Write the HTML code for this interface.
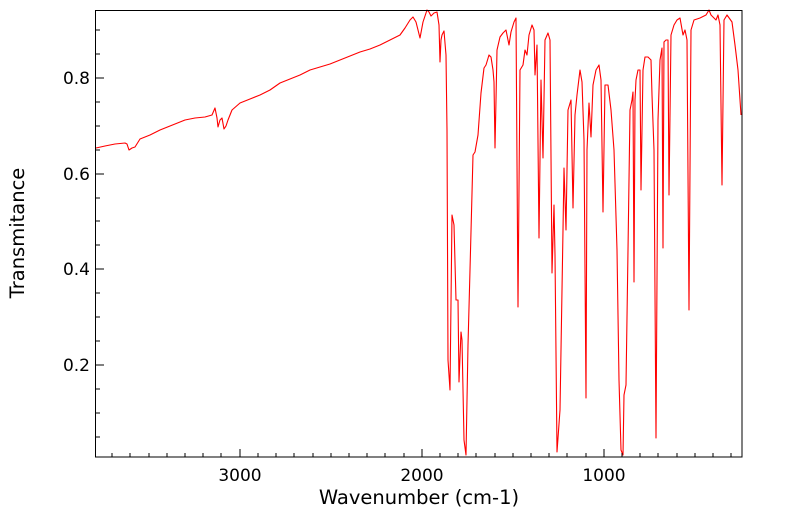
<!DOCTYPE html>
<html><head><style>
html,body{margin:0;padding:0;background:#fff;}
svg text{font-family:"DejaVu Sans","Liberation Sans",sans-serif;fill:#000;}
</style></head><body>
<svg width="799" height="516" viewBox="0 0 799 516" xmlns="http://www.w3.org/2000/svg">
<rect x="0" y="0" width="799" height="516" fill="#fff"/>
<polyline fill="none" stroke="#ff0000" stroke-width="1.1" stroke-linejoin="round" points="
96,148 105,146 115,144 125,143 127,144 129,150 132,148 135,147 140,139 150,135 160,130 175,124 185,120 195,118 205,117 212,115 215,108 217,118 218,127 220,120 222,118 224,129 226,126 228,120 232,110 240,103 250,99 260,95 270,90 280,83 290,79 300,75 310,70 320,67 330,64 340,60 350,56 360,52 370,49 380,45 390,40 400,35 405,28 410,20 413,17 416,22 418,30 420,38 423,22 427,10 429,12 431,16 434,13 437,12 439,25 440,62 441,40 442,35 444,31 446,55 447,130 448,360 450,390 452,215 454,225 456,300 458,300 459,382 461,332 462,340 464,440 466,455 468,345 470,270 473,155 475,152 478,135 481,93 484,68 486,65 489,55 491,57 493,70 494,82 495,148 496,100 497,50 500,37 503,33 506,30 509,45 511,32 514,22 516,18 518,307 520,70 523,65 525,50 527,55 529,35 532,25 534,30 535,75 537,45 539,238 541,80 543,158 545,40 548,33 550,40 552,273 554,205 555,255 557,452 560,410 563,230 564,168 566,230 568,110 571,100 573,208 575,115 577,95 580,70 582,82 584,140 586,398 587,150 589,103 591,137 593,85 596,70 599,65 601,80 603,212 605,85 608,85 611,110 614,150 617,250 619,380 621,450 623,455 624,395 626,385 628,250 630,110 632,100 633,92 634,282 635,100 636,80 638,70 640,70 641,190 643,70 645,57 648,57 651,60 652,95 654,150 656,438 658,120 660,60 662,48 663,248 664,42 666,40 668,40 669,195 671,35 674,25 677,20 680,18 683,35 685,30 687,40 689,310 691,30 694,20 700,18 706,15 709,10 711,15 713,17 716,20 718,15 720,25 722,185 724,20 727,15 732,22 735,45 738,70 741,115"/>
<rect x="95.5" y="10.5" width="646.5" height="446.5" fill="none" stroke="#000" stroke-width="1"/>
<g stroke="#000" stroke-width="1">
<line x1="240" y1="457" x2="240" y2="449"/>
<line x1="422" y1="457" x2="422" y2="449"/>
<line x1="604" y1="457" x2="604" y2="449"/>
<path d="M112,457v-4M130,457v-4M149,457v-4M167,457v-4M185,457v-4M203,457v-4M221,457v-4M258,457v-4M276,457v-4M294,457v-4M313,457v-4M331,457v-4M349,457v-4M367,457v-4M385,457v-4M404,457v-4M440,457v-4M458,457v-4M476,457v-4M495,457v-4M513,457v-4M531,457v-4M549,457v-4M567,457v-4M586,457v-4M622,457v-4M640,457v-4M658,457v-4M677,457v-4M695,457v-4M713,457v-4M731,457v-4"/>
<line x1="96" y1="78" x2="104" y2="78"/>
<line x1="96" y1="174" x2="104" y2="174"/>
<line x1="96" y1="269" x2="104" y2="269"/>
<line x1="96" y1="365" x2="104" y2="365"/>
<path d="M96,30h4M96,54h4M96,102h4M96,126h4M96,150h4M96,198h4M96,221h4M96,245h4M96,293h4M96,317h4M96,341h4M96,389h4M96,413h4M96,437h4"/>
</g>
<g font-size="17" text-anchor="end">
<text x="90" y="84">0.8</text>
<text x="90" y="180">0.6</text>
<text x="90" y="275">0.4</text>
<text x="90" y="371">0.2</text>
</g>
<g font-size="17" text-anchor="middle">
<text x="240" y="481">3000</text>
<text x="422" y="481">2000</text>
<text x="604" y="481">1000</text>
</g>
<g font-size="19.5" text-anchor="middle">
<text x="419" y="504">Wavenumber (cm-1)</text>
<text transform="translate(24,233) rotate(-90)">Transmitance</text>
</g>
</svg>
</body></html>
